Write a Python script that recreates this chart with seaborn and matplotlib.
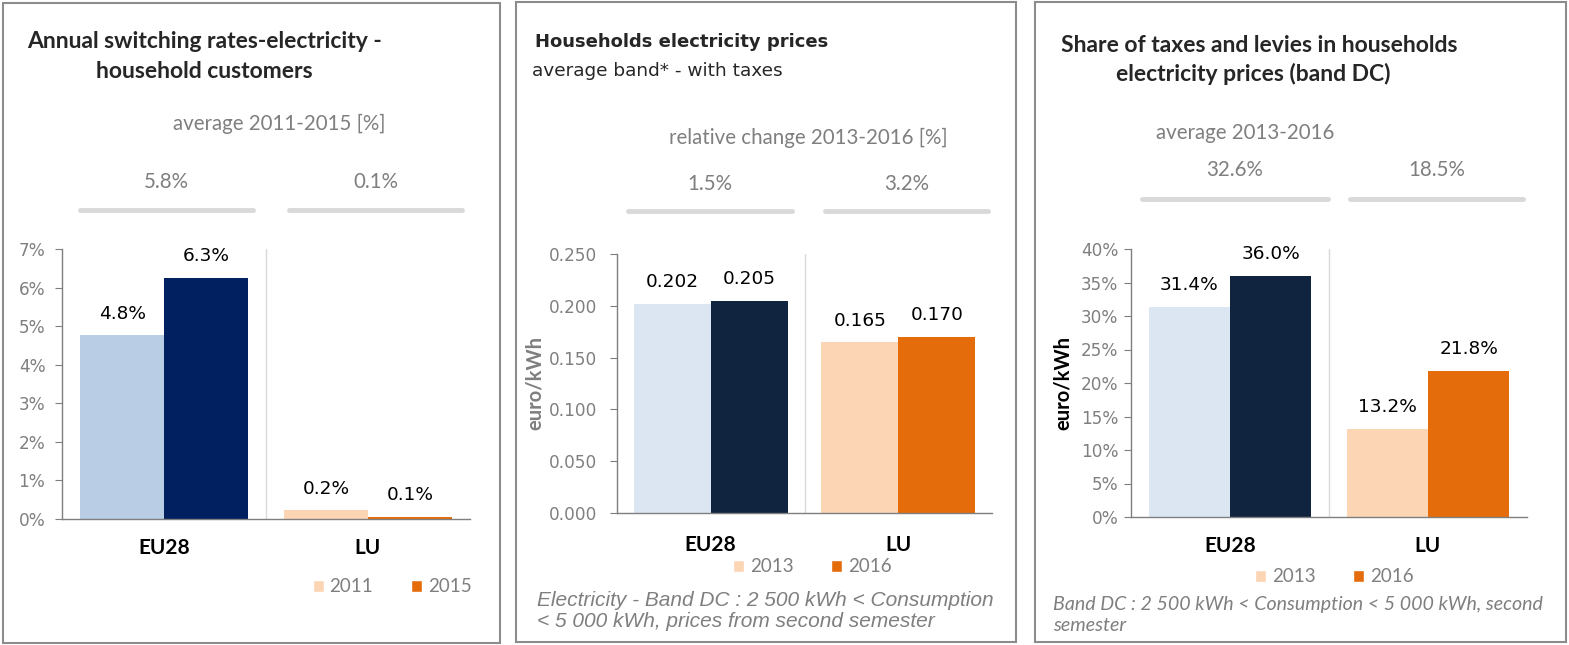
import numpy as np
import pandas as pd
import matplotlib
matplotlib.use("Agg")
import matplotlib.pyplot as plt
import matplotlib.ticker as mticker
from matplotlib.patches import Patch, Rectangle
import seaborn as sns

# --- datos ---
regions = ["EU28", "LU"]

switch_years = ["2011", "2015"]
switch_eu = [0.0476, 0.0626]
switch_lu = [0.0023, 0.0006]
switch_avg = ["5.8%", "0.1%"]

price_years = ["2013", "2016"]
price_eu = [0.202, 0.205]
price_lu = [0.165, 0.170]
price_change = ["1.5%", "3.2%"]

tax_years = ["2013", "2016"]
tax_eu = [0.314, 0.360]
tax_lu = [0.132, 0.218]
tax_avg = ["32.6%", "18.5%"]

# --- estilo ---
sns.set_style("white")
plt.rcParams["font.family"] = ["DejaVu Sans"]

GRAY = "#7F7F7F"
LINE = "#D9D9D9"
PEACH = "#FCD5B5"
ORANGE = "#E46C0A"
CAL = ["Lato", "DejaVu Sans"]      # parecido a Calibri

W, H = 1569, 645
fig = plt.figure(figsize=(W / 100, H / 100), dpi=100)


def fx(px):
    return px / W


def fy(py):
    return 1 - py / H


def panel(rect, years, eu, lu, eu_colors, ymax, step, fmt, labfmt, ypad, xpad):
    ax = fig.add_axes(rect)
    df = pd.DataFrame({
        "region": regions * 2,
        "year": [years[0]] * 2 + [years[1]] * 2,
        "value": [eu[0], lu[0], eu[1], lu[1]],
    })
    sns.barplot(data=df, x="region", y="value", hue="year", order=regions,
                hue_order=years, width=0.82, ax=ax, legend=False,
                palette=["#cccccc", "#333333"], saturation=1)
    cols = [[eu_colors[0], PEACH], [eu_colors[1], ORANGE]]
    for i, cont in enumerate(ax.containers):
        for j, bar in enumerate(cont):
            bar.set_facecolor(cols[i][j])
            bar.set_edgecolor("none")
            ax.annotate(labfmt(bar.get_height()),
                        (bar.get_x() + bar.get_width() / 2, bar.get_height()),
                        xytext=(0, 9), textcoords="offset points",
                        ha="center", va="bottom", fontsize=13.3, color="black")
    ax.set_xlim(-0.5, 1.5)
    ax.set_ylim(0, ymax)
    ax.set_yticks(np.arange(0, ymax + step / 2, step))
    ax.yaxis.set_major_formatter(fmt)
    ax.axvline(0.5, color=LINE, lw=1, zorder=0)
    ax.set_xticks([0, 1])
    ax.set_xticklabels(regions, fontsize=15, fontweight="bold", color="black",
                       family=CAL)
    ax.set_xticks([-0.5, 0.5, 1.5], minor=True)
    ax.tick_params(axis="x", which="major", length=0, pad=xpad)
    ax.tick_params(axis="x", which="minor", length=6, color=GRAY, direction="out")
    ax.tick_params(axis="y", length=5, color=GRAY, direction="out",
                   labelcolor=GRAY, labelsize=12.2, pad=ypad)
    ax.tick_params(bottom=True, left=True)
    sns.despine(ax=ax)
    for s in ["left", "bottom"]:
        ax.spines[s].set_color(GRAY)
        ax.spines[s].set_linewidth(1)
    ax.set_xlabel("")
    ax.set_ylabel("")
    return ax


def legend(ax, years, cx, cy):
    handles = [Patch(facecolor=PEACH), Patch(facecolor=ORANGE)]
    leg = ax.legend(handles, years, loc="center", bbox_to_anchor=(fx(cx), fy(cy)),
                    bbox_transform=fig.transFigure, ncol=2, frameon=False,
                    handlelength=0.6, handleheight=0.6, handletextpad=0.3,
                    columnspacing=2.0, prop={"family": CAL, "size": 13.5})
    for t in leg.get_texts():
        t.set_color(GRAY)


def header(avg_text, avgs, avg_y, num_y, line_y, lines):
    for (x0, x1), a in zip(lines, avgs):
        fig.add_artist(plt.Line2D([fx(x0), fx(x1)], [fy(line_y)] * 2,
                                  color=LINE, lw=3.5, transform=fig.transFigure))
        fig.text(fx((x0 + x1) / 2), fy(num_y), a, ha="center", va="center",
                 fontsize=14.8, color=GRAY, family=CAL)
    fig.text(avg_text[1], fy(avg_y), avg_text[0], ha="center", va="center",
             fontsize=14.8, color=GRAY, family=CAL)


# marcos
for x0, x1, y0, y1 in [(3, 500, 3, 643), (516, 1016, 2, 642), (1035, 1566, 2, 642)]:
    fig.add_artist(Rectangle((fx(x0), fy(y1)), fx(x1 - x0), (y1 - y0) / H,
                             fill=False, edgecolor="#8C8C8C", lw=1.5,
                             transform=fig.transFigure))

pct0 = mticker.PercentFormatter(1.0, decimals=0)

# --- panel 1 ---
ax1 = panel([fx(62), fy(519), fx(470 - 62), (519 - 249) / H], switch_years,
            switch_eu, switch_lu, ["#B9CDE5", "#002060"], 0.07, 0.01, pct0,
            lambda v: f"{v * 100:.1f}%", 7, 14)
legend(ax1, switch_years, 392, 587)
fig.text(fx(204), fy(42), "Annual switching rates-electricity -", ha="center",
         va="center", fontsize=16.5, fontweight="bold", family=CAL)
fig.text(fx(204), fy(71), "household customers", ha="center", va="center",
         fontsize=16.5, fontweight="bold", family=CAL)
header(("average 2011-2015 [%]", fx(279)), switch_avg, 124, 182, 210,
       [(80, 253), (289, 462)])

# --- panel 2 ---
ax2 = panel([fx(617), fy(513), fx(992 - 617), (513 - 254) / H], price_years,
            price_eu, price_lu, ["#DCE6F2", "#10243F"], 0.25, 0.05,
            mticker.FormatStrFormatter("%.3f"), lambda v: f"{v:.3f}", 9, 16)
ax2.set_ylabel("euro/kWh", fontsize=14.5, fontweight="bold", color=GRAY,
               labelpad=3, family=CAL)
legend(ax2, price_years, 812, 567)
fig.text(fx(535), fy(42), "Households electricity prices", ha="left",
         va="center", fontsize=13, fontweight="bold")
fig.text(fx(532), fy(71), "average band* - with taxes", ha="left",
         va="center", fontsize=13.3)
header(("relative change 2013-2016 [%]", fx(808)), price_change, 138, 184, 211,
       [(628, 792), (825, 988)])
fig.text(fx(537), fy(611),
         "Electricity - Band DC : 2 500 kWh < Consumption\n< 5 000 kWh, prices from second semester",
         ha="left", va="center", fontsize=15, style="italic", color=GRAY,
         linespacing=1.15, family=["Liberation Sans", "DejaVu Sans"])

# --- panel 3 ---
ax3 = panel([fx(1131), fy(517), fx(1527 - 1131), (517 - 249) / H], tax_years,
            tax_eu, tax_lu, ["#DCE6F2", "#10243F"], 0.40, 0.05, pct0,
            lambda v: f"{v * 100:.1f}%", 4, 14)
ax3.set_ylabel("euro/kWh", fontsize=14.5, fontweight="bold", color="black",
               labelpad=6, family=CAL)
legend(ax3, tax_years, 1334, 577)
fig.text(fx(1259), fy(45), "Share of taxes and levies in households", ha="center",
         va="center", fontsize=16.5, fontweight="bold", family=CAL)
fig.text(fx(1253), fy(74), "electricity prices (band DC)", ha="center",
         va="center", fontsize=16.5, fontweight="bold", family=CAL)
header(("average 2013-2016", fx(1245)), tax_avg, 133, 170, 199,
       [(1142, 1328), (1350, 1523)])
fig.text(fx(1053), fy(615),
         "Band DC : 2 500 kWh < Consumption < 5 000 kWh, second\nsemester",
         ha="left", va="center", fontsize=14.1, style="italic", color=GRAY,
         linespacing=1.25, family=CAL)

fig.savefig("out.png", dpi=100, facecolor="white")
